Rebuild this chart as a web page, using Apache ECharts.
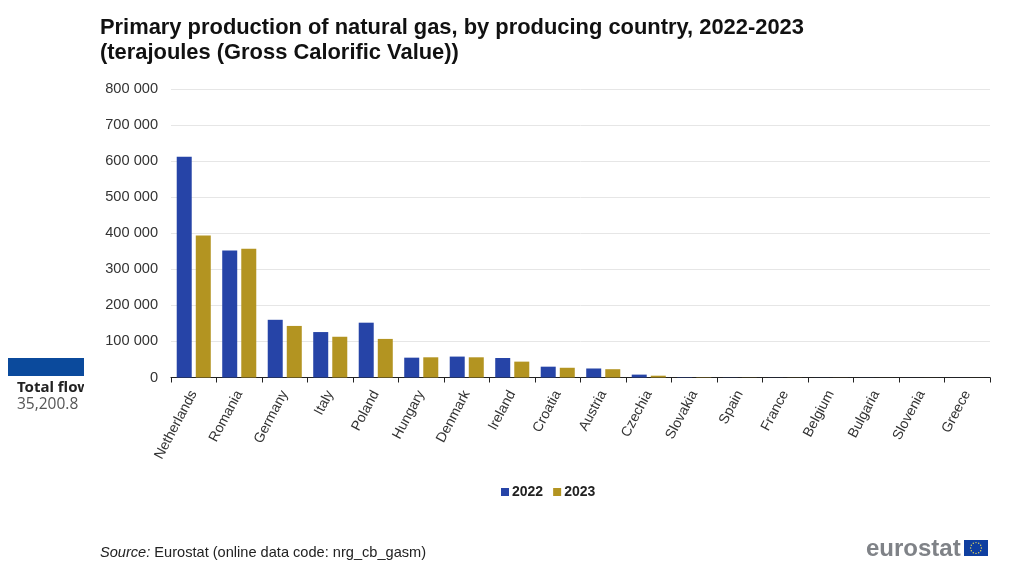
<!DOCTYPE html>
<html><head><meta charset="utf-8">
<style>html,body{margin:0;padding:0;background:#fff}#c{width:1024px;height:566px}</style>
<script src="https://cdn.jsdelivr.net/npm/echarts@6/dist/echarts.min.js"></script>
</head><body><div id="c"></div>
<script>
const categories = ['Netherlands','Romania','Germany','Italy','Poland','Hungary','Denmark','Ireland','Croatia','Austria','Czechia','Slovakia','Spain','France','Belgium','Bulgaria','Slovenia','Greece'];
const values2022 = [612000,352000,160000,126000,152000,55000,58000,54000,30000,25000,8000,1000,500,300,200,200,100,100];
const values2023 = [394000,357000,143000,113000,107000,56000,56000,44000,27000,23000,5000,900,400,300,200,100,100,100];
const seriesNames = ['2022','2023'];
const titleLines = 'Primary production of natural gas, by producing country, 2022-2023\n(terajoules (Gross Calorific Value))';
const font = '"Liberation Sans", Arial, sans-serif';
const chart = echarts.init(document.getElementById('c'), null, {renderer:'canvas'});
const stars = [];
for (let i=0;i<12;i++){
  const a = i/12*2*Math.PI;
  stars.push({type:'circle',shape:{cx:976+5.4*Math.cos(a),cy:548+5.4*Math.sin(a),r:0.7},style:{fill:'#e8d85a'},z:12});
}
chart.setOption({
  animation:false,
  backgroundColor:'#fff',
  title:{text:titleLines,left:95,top:10,textStyle:{fontFamily:font,fontSize:21.9,fontWeight:'bold',color:'#111',lineHeight:25.5}},
  grid:{left:171,right:34,top:89,bottom:188.5,containLabel:false},
  legend:{data:seriesNames,left:496,top:480,itemWidth:8,itemHeight:8,itemGap:10,icon:'rect',
    textStyle:{fontFamily:font,fontSize:14,fontWeight:'bold',color:'#222',padding:[0,0,0,-2]}},
  xAxis:{type:'category',data:categories,
    axisLine:{lineStyle:{color:'#222',width:1}},
    axisTick:{show:true,alignWithLabel:false,length:5,lineStyle:{color:'#222'}},
    axisLabel:{interval:0,rotate:62,margin:14,fontFamily:font,fontSize:14,color:'#333'}},
  yAxis:{type:'value',min:0,max:800000,interval:100000,
    axisLine:{show:false},axisTick:{show:false},
    splitLine:{lineStyle:{color:'#e6e6e6',width:1}},
    axisLabel:{margin:13,fontFamily:font,fontSize:14.6,color:'#333',padding:[2,0,0,0],
      formatter:v=>String(v).replace(/\B(?=(\d{3})+(?!\d))/g,' ')}},
  series:[
    {name:seriesNames[0],type:'bar',data:values2022,barWidth:15,barGap:'27%',itemStyle:{color:'#2644a7'}},
    {name:seriesNames[1],type:'bar',data:values2023,barWidth:15,itemStyle:{color:'#b39421'}}
  ],
  graphic:[
    {type:'rect',shape:{x:8,y:358,width:76,height:18},style:{fill:'#0b4a9c'}},
    {type:'text',x:17,y:380,style:{text:'Total flow',font:'bold 15px "Noto Sans", sans-serif',fill:'#222'},z:10},
    {type:'rect',shape:{x:84,y:378,width:20,height:20},style:{fill:'#fff'},z:11},
    {type:'text',x:17,y:397,style:{text:'35,200.8',font:'15.5px "Open Sans", sans-serif',fill:'#555'},z:10},
    {type:'text',silent:true,x:100,y:545,style:{text:'{i|Source:} Eurostat (online data code: nrg_cb_gasm)',
      rich:{i:{fontStyle:'italic',fontFamily:font,fontSize:14.6,fill:'#222'}},font:'14.6px "Liberation Sans"',fill:'#222'}},
    {type:'text',x:866,y:537,style:{text:'eurostat',font:'bold 24px "Liberation Sans", sans-serif',fill:'#7f8287'}},
    {type:'rect',shape:{x:964,y:540,width:24,height:16},style:{fill:'#0f3fa0'},z:11},
    {type:'group',children:stars}
  ]
});
</script></body></html>
